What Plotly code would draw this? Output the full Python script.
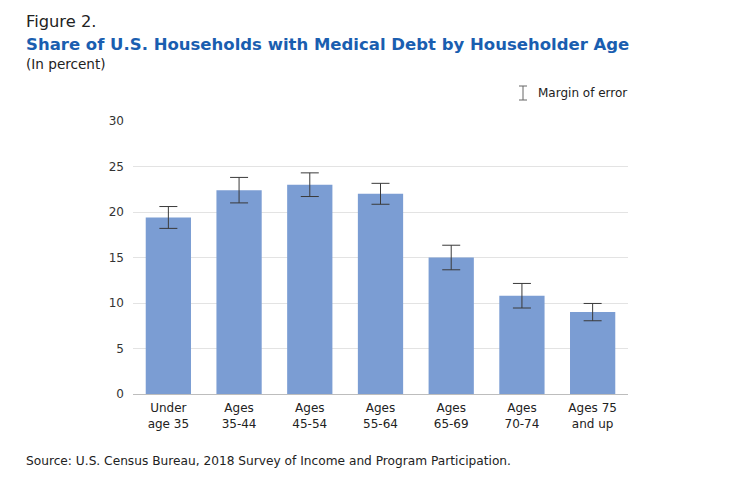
import plotly.graph_objects as go

categories = ["Under<br>age 35", "Ages<br>35-44", "Ages<br>45-54", "Ages<br>55-64",
              "Ages<br>65-69", "Ages<br>70-74", "Ages 75<br>and up"]
shares = [19.4, 22.4, 23.0, 22.0, 15.0, 10.8, 9.0]
moe = [1.2, 1.4, 1.3, 1.15, 1.35, 1.35, 0.95]
y_ticks = [0, 5, 10, 15, 20, 25, 30]

FONT = "'DejaVu Sans', 'Open Sans', Arial, sans-serif"
OFF = 8  # page body margin offset
W, H = 753 - OFF, 479 - OFF
pl, pr, pt, pb = 133 - OFF, 125, 121 - OFF, 85
pw, ph = W - pl - pr, H - pt - pb

fig = go.Figure()
fig.add_trace(go.Bar(
    x=categories, y=shares,
    marker=dict(color="#7b9dd3", line=dict(width=0)),
    width=0.64,
    error_y=dict(type="data", array=moe, visible=True, color="#3a3a3a", thickness=1, width=9),
    showlegend=False,
))

def px2paper(x, y):
    return (x - OFF - pl) / pw, 1 - (y - OFF - pt) / ph

texts = [
    ("Figure 2.", 24, 22, dict(size=16.3, color="#222")),
    ("<b>Share of U.S. Households with Medical Debt by Householder Age</b>", 24, 44,
     dict(size=16.5, color="#1a5eb0")),
    ("(In percent)", 24, 64, dict(size=13.6, color="#222")),
    ("Margin of error", 536, 93, dict(size=12, color="#222")),
    ("Source: U.S. Census Bureau, 2018 Survey of Income and Program Participation.", 24, 461,
     dict(size=12.2, color="#222")),
]
anns = []
for t, x, y, st in texts:
    ax, ay = px2paper(x, y)
    anns.append(dict(text=t, xref="paper", yref="paper", x=ax, y=ay,
                     xanchor="left", yanchor="middle", showarrow=False,
                     font=dict(family=FONT, **st)))

shapes = []
cx = 523
for (x0, y0, x1, y1) in [(cx, 86, cx, 100), (cx - 4, 86, cx + 4, 86), (cx - 4, 100, cx + 4, 100)]:
    a0, b0 = px2paper(x0, y0)
    a1, b1 = px2paper(x1, y1)
    shapes.append(dict(type="line", xref="paper", yref="paper", x0=a0, y0=b0, x1=a1, y1=b1,
                       line=dict(color="#666", width=1)))

fig.update_layout(
    width=W, height=H,
    margin=dict(l=pl, r=pr, t=pt, b=pb),
    paper_bgcolor="white", plot_bgcolor="white",
    font=dict(family=FONT, color="#222", size=12),
    xaxis=dict(range=[-0.5, 6.5], showgrid=False, showline=False, ticks="",
               tickfont=dict(size=12, color="#222"), ticklabelstandoff=5),
    yaxis=dict(range=[0, 30], tickvals=y_ticks, showgrid=True, gridcolor="#e3e3e3",
               gridwidth=1, zeroline=True, zerolinecolor="#bdbdbd", zerolinewidth=1,
               showline=False, ticks="", tickfont=dict(size=12, color="#333"), ticklabelstandoff=8),
    annotations=anns,
    shapes=shapes,
)

fig.write_html("out.html")
